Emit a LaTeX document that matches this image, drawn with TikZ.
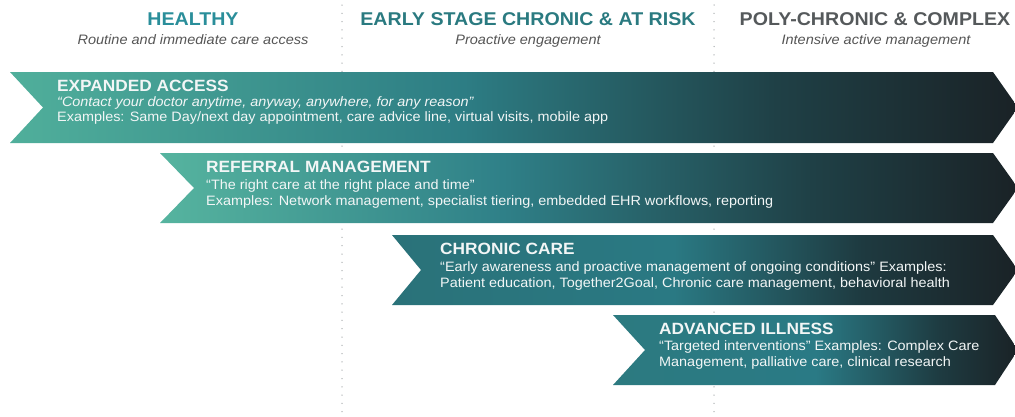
\documentclass[tikz,border=0pt]{standalone}
\usepackage{fontspec}
\setmainfont{Liberation Sans}[FakeStretch=1.06]
\definecolor{hteal}{HTML}{2A8E9A}
\definecolor{mteal}{HTML}{2A7A80}
\definecolor{hgray}{HTML}{55595B}
\definecolor{sgray}{HTML}{555555}
\definecolor{dotgray}{HTML}{B0B4B6}
\definecolor{txtw}{HTML}{F2F6F6}
\definecolor{aA}{HTML}{50AF9B}\definecolor{aB}{HTML}{2D7D84}\definecolor{aC}{HTML}{1F4046}\definecolor{aD}{HTML}{1A2226}
\definecolor{bA}{HTML}{56B49F}\definecolor{bB}{HTML}{2F8088}\definecolor{bC}{HTML}{1F4046}\definecolor{bD}{HTML}{1A2226}
\definecolor{cA}{HTML}{2A7279}\definecolor{cB}{HTML}{2A7983}\definecolor{cC}{HTML}{1E3A40}\definecolor{cD}{HTML}{1A2226}
\definecolor{dA}{HTML}{2C7A80}\definecolor{dB}{HTML}{2A7A85}\definecolor{dC}{HTML}{1E3C42}\definecolor{dD}{HTML}{1A2226}
\pgfdeclarehorizontalshading{rowA}{100bp}{color(0bp)=(aA); color(25bp)=(aA); color(47.5bp)=(aB); color(63bp)=(aC); color(75bp)=(aD); color(100bp)=(aD)}
\pgfdeclarehorizontalshading{rowB}{100bp}{color(0bp)=(bA); color(25bp)=(bA); color(45bp)=(bB); color(63bp)=(bC); color(75bp)=(bD); color(100bp)=(bD)}
\pgfdeclarehorizontalshading{rowC}{100bp}{color(0bp)=(cA); color(25bp)=(cA); color(47.5bp)=(cB); color(62.5bp)=(cC); color(75bp)=(cD); color(100bp)=(cD)}
\pgfdeclarehorizontalshading{rowD}{100bp}{color(0bp)=(dA); color(25bp)=(dA); color(50bp)=(dB); color(65bp)=(dC); color(75bp)=(dD); color(100bp)=(dD)}
\begin{document}
\begin{tikzpicture}[x=1pt,y=-1pt,
  hdr/.style={anchor=base, inner sep=0pt, font=\fontsize{18.5}{20}\selectfont\bfseries},
  sub/.style={anchor=base, inner sep=0pt, text=sgray, font=\fontsize{13.7}{15}\selectfont\itshape},
  ttl/.style={anchor=base west, inner sep=0pt, text=txtw, font=\fontsize{16.3}{18}\selectfont\bfseries},
  bdy/.style={anchor=base west, inner sep=0pt, text=txtw, font=\fontsize{13.6}{15}\selectfont},
  divider/.style={draw=dotgray, line width=1.5pt, line cap=round, dash pattern=on 0pt off 8.3pt}]
\useasboundingbox (0,0) rectangle (1015,416);
% column dividers
\draw[divider] (342,5) -- (342,416);
\draw[divider] (714,5) -- (714,416);
% headers
\node[hdr, text=hteal] (h1) at (193,25) {HEALTHY};
\node[sub] (s1) at (193,44) {Routine and immediate care access};
\node[hdr, text=mteal] (h2) at (528,25.5) {EARLY STAGE CHRONIC \& AT RISK};
\node[sub] (s2) at (528,44.5) {Proactive engagement};
\node[hdr, text=hgray] (h3) at (875,25.5) {POLY-CHRONIC \& COMPLEX};
\node[sub] (s3) at (876,44.5) {Intensive active management};
% chevrons
\shade[shading=rowA] (10,72) -- (993,72) -- (1018,107.5) -- (993,143) -- (10,143) -- (43,107.5) -- cycle;
\shade[shading=rowB] (160,153) -- (993,153) -- (1018,188) -- (993,223) -- (160,223) -- (194,188) -- cycle;
\shade[shading=rowC] (392,235) -- (993,235) -- (1018,270) -- (993,305) -- (392,305) -- (421,270) -- cycle;
\shade[shading=rowD] (613,315) -- (995,315) -- (1018,350) -- (995,385) -- (613,385) -- (645,350) -- cycle;
% row 1
\node[ttl] (t1) at (57,91) {EXPANDED ACCESS};
\node[bdy, font=\fontsize{13.6}{15}\selectfont\itshape] (q1) at (57,106) {“Contact your doctor anytime, anyway, anywhere, for any reason”};
\node[bdy] (e1) at (57,121) {Examples: Same Day/next day appointment, care advice line, virtual visits, mobile app};
% row 2
\node[ttl] (t2) at (206,172) {REFERRAL MANAGEMENT};
\node[bdy] (q2) at (206,189) {“The right care at the right place and time”};
\node[bdy] (e2) at (206,205) {Examples: Network management, specialist tiering, embedded EHR workflows, reporting};
% row 3
\node[ttl] (t3) at (440,254) {CHRONIC CARE};
\node[bdy] (q3) at (440,271) {“Early awareness and proactive management of ongoing conditions” Examples:};
\node[bdy] (e3) at (440,287) {Patient education, Together2Goal, Chronic care management, behavioral health};
% row 4
\node[ttl] (t4) at (659,334) {ADVANCED ILLNESS};
\node[bdy] (q4) at (659,350) {“Targeted interventions” Examples: Complex Care};
\node[bdy] (e4) at (659,366) {Management, palliative care, clinical research};
\end{tikzpicture}
\end{document}
